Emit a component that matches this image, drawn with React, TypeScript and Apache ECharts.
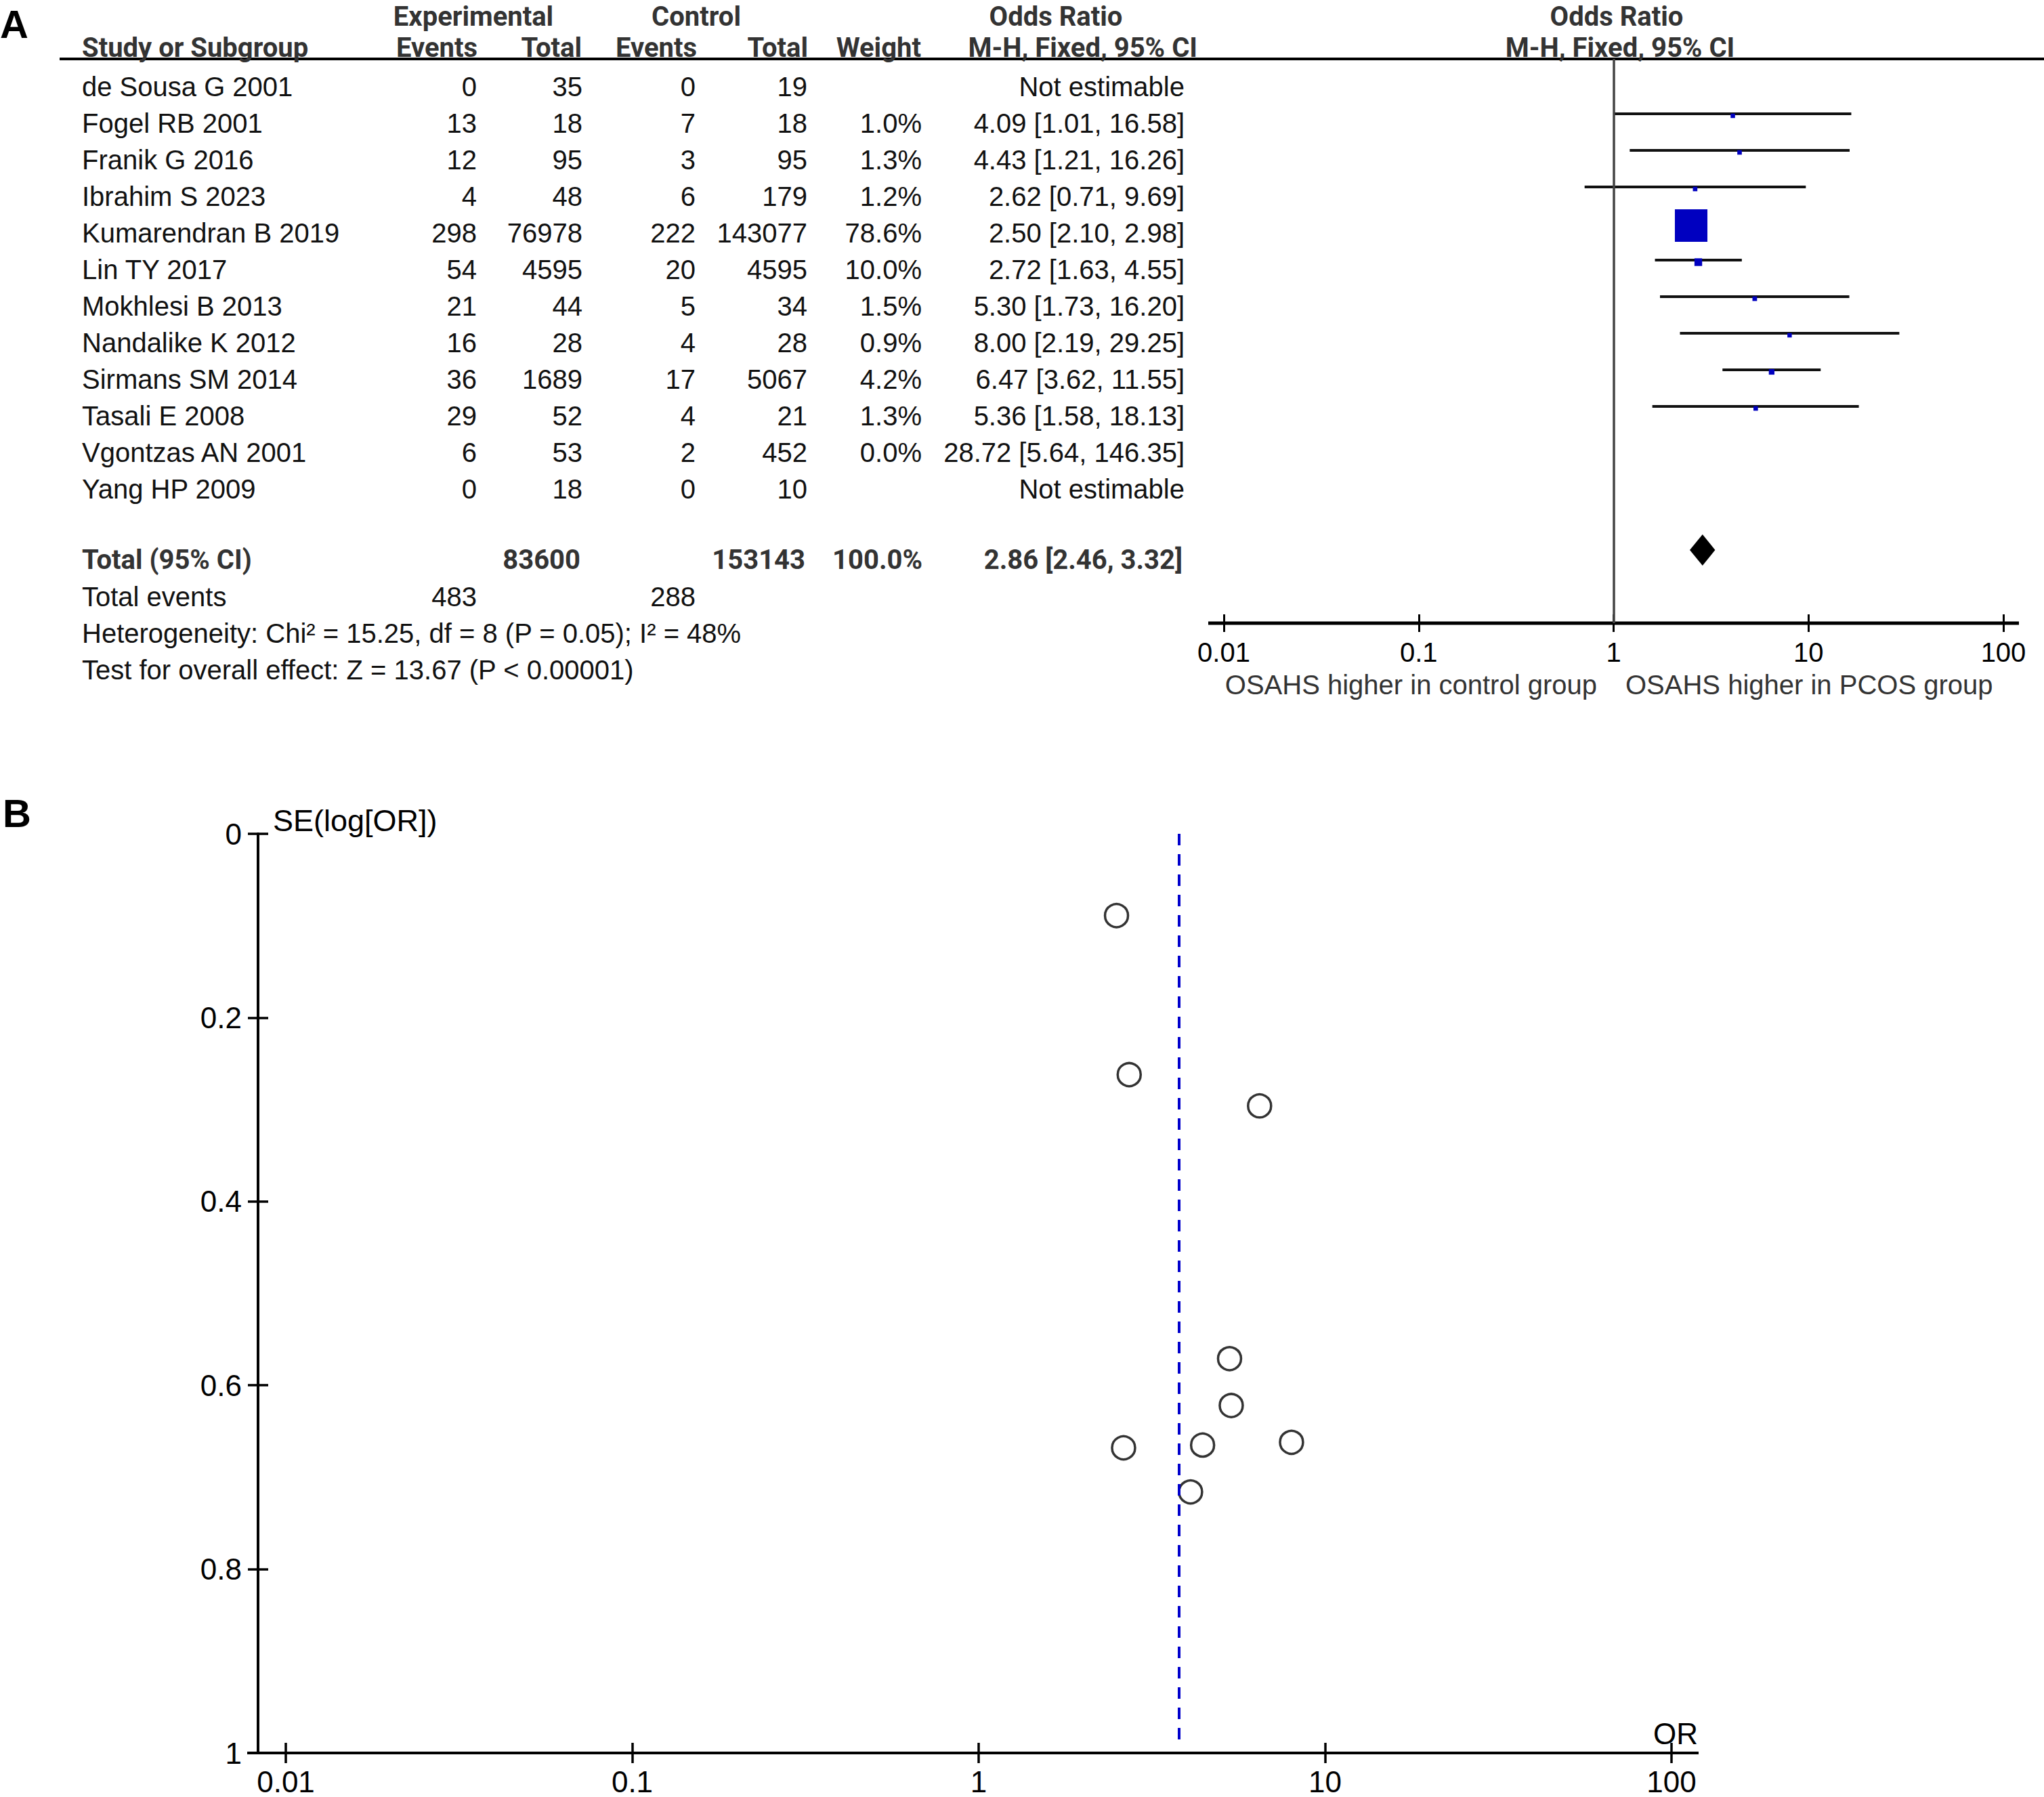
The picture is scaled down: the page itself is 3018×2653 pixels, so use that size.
import React, { useEffect, useRef } from "react";
import * as echarts from "echarts";

// ---------------- DATA ----------------
const studies = [
  "de Sousa G 2001",
  "Fogel RB 2001",
  "Franik G 2016",
  "Ibrahim S 2023",
  "Kumarendran B 2019",
  "Lin TY 2017",
  "Mokhlesi B 2013",
  "Nandalike K 2012",
  "Sirmans SM 2014",
  "Tasali E 2008",
  "Vgontzas AN 2001",
  "Yang HP 2009",
];
const expEvents = [0, 13, 12, 4, 298, 54, 21, 16, 36, 29, 6, 0];
const expTotal = [35, 18, 95, 48, 76978, 4595, 44, 28, 1689, 52, 53, 18];
const ctrlEvents = [0, 7, 3, 6, 222, 20, 5, 4, 17, 4, 2, 0];
const ctrlTotal = [19, 18, 95, 179, 143077, 4595, 34, 28, 5067, 21, 452, 10];
const weights: (number | null)[] = [null, 1.0, 1.3, 1.2, 78.6, 10.0, 1.5, 0.9, 4.2, 1.3, 0.0, null];
const oddsRatio: (number | null)[] = [null, 4.09, 4.43, 2.62, 2.5, 2.72, 5.3, 8.0, 6.47, 5.36, 28.72, null];
const ciLow: (number | null)[] = [null, 1.01, 1.21, 0.71, 2.1, 1.63, 1.73, 2.19, 3.62, 1.58, 5.64, null];
const ciHigh: (number | null)[] = [null, 16.58, 16.26, 9.69, 2.98, 4.55, 16.2, 29.25, 11.55, 18.13, 146.35, null];

const totalLabel = "Total (95% CI)";
const totalExp = 83600;
const totalCtrl = 153143;
const totalWeight = "100.0%";
const totalOR = 2.86;
const totalLow = 2.46;
const totalHigh = 3.32;
const totalEventsExp = 483;
const totalEventsCtrl = 288;
const heterogeneityText = "Heterogeneity: Chi² = 15.25, df = 8 (P = 0.05); I² = 48%";
const overallEffectText = "Test for overall effect: Z = 13.67 (P < 0.00001)";

// funnel plot
const funnelSE: (number | null)[] = [null, 0.716, 0.665, 0.668, 0.089, 0.262, 0.571, 0.662, 0.296, 0.622, null, null];
const funnelCentre = 3.78;
const seTicks = { min: 0, max: 1, interval: 0.2 };
const orRange = { min: 0.01, max: 100 };

// ---------------- LAYOUT ----------------
const W = 3018;
const H = 2653;
const REG = "'Liberation Sans', Arial, sans-serif";
const BOLD = "Roboto, 'Liberation Sans', Arial, sans-serif";
const LETTER = "'Liberation Sans', Arial, sans-serif";
const FS = 40;
const ROW0 = 128;
const ROW_H = 54;
const MARK_OFF = -14;
const TOTAL_Y = 826;
const EVENTS_Y = 881;
const HET_Y = 935;
const TEST_Y = 989;
const H1_Y = 24;
const H2_Y = 70;
const FOREST = { left: 1807, right: 2958, top: 87, bottom: 920 };
const FUNNEL = { left: 422, right: 2468, top: 1231, bottom: 2588 };
const Y_OFFSET = 41;
const COL = {
  study: 121,
  expEv: 704,
  expTot: 860,
  ctlEv: 1027,
  ctlTot: 1192,
  weight: 1361,
  orci: 1749,
};

const fmtLog = (v: number) => (v >= 1 ? String(Math.round(v)) : String(Number(v.toPrecision(1))));

function txt(text: string, x: number, y: number, align: string, opts: any = {}) {
  const bold = !!opts.bold;
  const size = opts.size ?? FS;
  const family = opts.family ?? (bold ? BOLD : REG);
  return {
    type: "text",
    x,
    y,
    silent: true,
    z: 10,
    style: {
      text,
      fill: opts.color ?? (bold ? "#333" : "#111"),
      font: `${bold ? "bold " : ""}${size}px ${family}`,
      lineHeight: size,
      textAlign: align,
      align,
      textVerticalAlign: "middle",
      verticalAlign: "middle",
    },
  };
}

function hline(x1: number, x2: number, y: number, w: number, color = "#000") {
  return { type: "line", silent: true, z: 5, shape: { x1, y1: y, x2, y2: y }, style: { stroke: color, lineWidth: w } };
}

function buildOption() {
  const g: any[] = [];
  // panel letters
  g.push(txt("A", 0, 35, "left", { bold: true, size: 58, family: LETTER, color: "#000" }));
  g.push(txt("B", 4, 1200, "left", { bold: true, size: 58, family: LETTER, color: "#000" }));

  // headers
  g.push(txt("Experimental", 699, H1_Y, "center", { bold: true }));
  g.push(txt("Control", 1028, H1_Y, "center", { bold: true }));
  g.push(txt("Odds Ratio", 1559, H1_Y, "center", { bold: true }));
  g.push(txt("Odds Ratio", 2387, H1_Y, "center", { bold: true }));
  g.push(txt("Study or Subgroup", COL.study, H2_Y, "left", { bold: true }));
  g.push(txt("Events", 705, H2_Y, "right", { bold: true }));
  g.push(txt("Total", 859, H2_Y, "right", { bold: true }));
  g.push(txt("Events", 1029, H2_Y, "right", { bold: true }));
  g.push(txt("Total", 1193, H2_Y, "right", { bold: true }));
  g.push(txt("Weight", 1360, H2_Y, "right", { bold: true }));
  g.push(txt("M-H, Fixed, 95% CI", 1768, H2_Y, "right", { bold: true }));
  g.push(txt("M-H, Fixed, 95% CI", 2392, H2_Y, "center", { bold: true }));
  g.push(hline(88, W, FOREST.top, 4));

  // study rows
  studies.forEach((s, i) => {
    const y = ROW0 + ROW_H * i;
    g.push(txt(s, COL.study, y, "left"));
    g.push(txt(String(expEvents[i]), COL.expEv, y, "right"));
    g.push(txt(String(expTotal[i]), COL.expTot, y, "right"));
    g.push(txt(String(ctrlEvents[i]), COL.ctlEv, y, "right"));
    g.push(txt(String(ctrlTotal[i]), COL.ctlTot, y, "right"));
    const w = weights[i];
    if (w != null) g.push(txt(w.toFixed(1) + "%", COL.weight, y, "right"));
    const or = oddsRatio[i];
    const t =
      or == null
        ? "Not estimable"
        : `${or.toFixed(2)} [${(ciLow[i] as number).toFixed(2)}, ${(ciHigh[i] as number).toFixed(2)}]`;
    g.push(txt(t, COL.orci, y, "right"));
  });

  // totals
  g.push(txt(totalLabel, COL.study, TOTAL_Y, "left", { bold: true }));
  g.push(txt(String(totalExp), COL.expTot - 3, TOTAL_Y, "right", { bold: true }));
  g.push(txt(String(totalCtrl), COL.ctlTot - 3, TOTAL_Y, "right", { bold: true }));
  g.push(txt(totalWeight, COL.weight + 1, TOTAL_Y, "right", { bold: true }));
  g.push(
    txt(`${totalOR.toFixed(2)} [${totalLow.toFixed(2)}, ${totalHigh.toFixed(2)}]`, COL.orci - 3, TOTAL_Y, "right", {
      bold: true,
    })
  );
  g.push(txt("Total events", COL.study, EVENTS_Y, "left"));
  g.push(txt(String(totalEventsExp), COL.expEv, EVENTS_Y, "right"));
  g.push(txt(String(totalEventsCtrl), COL.ctlEv, EVENTS_Y, "right"));
  g.push(txt(heterogeneityText, COL.study, HET_Y, "left"));
  g.push(txt(overallEffectText, COL.study, TEST_Y, "left"));

  // forest axis line + directions
  g.push(hline(1784, 2981, FOREST.bottom, 5));
  g.push(txt("OSAHS higher in control group", 2358, 1011, "right", { color: "#333" }));
  g.push(txt("OSAHS higher in PCOS group", 2400, 1011, "left", { color: "#333" }));

  // funnel axis line + names
  g.push(hline(365, 2508, FUNNEL.bottom, 4));
  g.push(txt("SE(log[OR])", 403, 1211, "left", { size: 45, color: "#000" }));
  g.push(txt("OR", 2507, 2559, "right", { size: 44, color: "#000" }));

  // forest mark data
  const forestData: number[][] = [];
  studies.forEach((_, i) => {
    const w = weights[i];
    if (oddsRatio[i] != null && w != null && w > 0) {
      forestData.push([ciLow[i] as number, ciHigh[i] as number, oddsRatio[i] as number, i, w]);
    }
  });
  const totalPos = (TOTAL_Y - ROW0) / ROW_H;
  const yMin = (FOREST.top - (ROW0 + MARK_OFF)) / ROW_H;
  const yMax = (FOREST.bottom - (ROW0 + MARK_OFF)) / ROW_H;

  const funnelData: number[][] = [];
  studies.forEach((_, i) => {
    if (funnelSE[i] != null && oddsRatio[i] != null) funnelData.push([oddsRatio[i] as number, funnelSE[i] as number]);
  });

  const forestH = FOREST.bottom - FOREST.top;
  const funnelH = FUNNEL.bottom - FUNNEL.top;
  const funnelW = FUNNEL.right - FUNNEL.left;

  const logAxisBase = (gridIndex: number, extra: any) => ({
    type: "log",
    logBase: 10,
    gridIndex,
    min: orRange.min,
    max: orRange.max,
    splitLine: { show: false },
    axisLine: { show: false, onZero: false },
    ...extra,
  });

  return {
    animation: false,
    backgroundColor: "#fff",
    grid: [
      {
        left: FOREST.left,
        top: FOREST.top,
        width: FOREST.right - FOREST.left,
        height: forestH,
        containLabel: false,
      },
      {
        left: FUNNEL.left,
        top: FUNNEL.top,
        width: funnelW,
        height: funnelH,
        containLabel: false,
      },
    ],
    xAxis: [
      logAxisBase(0, {
        position: "bottom",
        axisTick: { show: true, inside: false, length: 13, lineStyle: { color: "#000", width: 3 } },
        axisLabel: {
          show: true,
          margin: 23,
          fontSize: 40,
          lineHeight: 40,
          fontFamily: REG,
          color: "#000",
          formatter: (v: number) => fmtLog(v),
        },
      }),
      // upward half of the crossing ticks
      logAxisBase(0, {
        position: "bottom",
        axisTick: { show: true, inside: true, length: 13, lineStyle: { color: "#000", width: 3 } },
        axisLabel: { show: false },
      }),
      logAxisBase(1, {
        position: "bottom",
        axisTick: { show: true, inside: false, length: 15, lineStyle: { color: "#000", width: 3.5 } },
        axisLabel: {
          show: true,
          margin: 20,
          fontSize: 44,
          lineHeight: 44,
          fontFamily: REG,
          color: "#000",
          formatter: (v: number) => fmtLog(v),
        },
      }),
      logAxisBase(1, {
        position: "bottom",
        axisTick: { show: true, inside: true, length: 15, lineStyle: { color: "#000", width: 3.5 } },
        axisLabel: { show: false },
      }),
    ],
    yAxis: [
      { type: "value", gridIndex: 0, show: false, inverse: true, min: yMin, max: yMax, axisLine: { onZero: false } },
      {
        type: "value",
        gridIndex: 1,
        position: "left",
        inverse: true,
        offset: Y_OFFSET,
        min: seTicks.min,
        max: seTicks.max,
        interval: seTicks.interval,
        splitLine: { show: false },
        axisLine: { show: true, onZero: false, lineStyle: { color: "#000", width: 4 } },
        axisTick: { show: true, inside: false, length: 15, lineStyle: { color: "#000", width: 3.5 } },
        axisLabel: {
          show: true,
          margin: 24,
          fontSize: 44,
          fontFamily: REG,
          color: "#000",
          padding: [20, 0, 0, 0],
        },
      },
      // rightward half of the crossing ticks
      {
        type: "value",
        gridIndex: 1,
        position: "left",
        inverse: true,
        offset: Y_OFFSET,
        min: seTicks.min,
        max: seTicks.max,
        interval: seTicks.interval,
        splitLine: { show: false },
        axisLine: { show: false, onZero: false },
        axisTick: { show: true, inside: true, length: 15, lineStyle: { color: "#000", width: 3.5 } },
        axisLabel: { show: false },
      },
    ],
    graphic: g,
    series: [
      {
        type: "custom",
        name: "studies",
        xAxisIndex: 0,
        yAxisIndex: 0,
        encode: { x: [0, 1, 2], y: 3 },
        data: forestData,
        renderItem: (_p: any, api: any) => {
          const lo = api.value(0);
          const hi = api.value(1);
          const or = api.value(2);
          const row = api.value(3);
          const w = api.value(4);
          const a = api.coord([lo, row]);
          const b = api.coord([hi, row]);
          const c = api.coord([or, row]);
          const s = 6 + 0.535 * w;
          return {
            type: "group",
            children: [
              {
                type: "line",
                shape: { x1: a[0], y1: a[1], x2: b[0], y2: b[1] },
                style: { stroke: "#111", lineWidth: 4 },
              },
              {
                type: "rect",
                shape: { x: c[0] - s / 2, y: c[1] - s / 2 + 3, width: s, height: s },
                style: { fill: "#0000C0" },
              },
            ],
          };
        },
        markLine: {
          silent: true,
          symbol: "none",
          label: { show: false },
          lineStyle: { color: "#444", width: 3.5, type: "solid" },
          data: [{ xAxis: 1 }],
        },
      },
      {
        type: "custom",
        name: "total",
        xAxisIndex: 0,
        yAxisIndex: 0,
        encode: { x: [0, 1, 2], y: 3 },
        data: [[totalLow, totalHigh, totalOR, totalPos]],
        renderItem: (_p: any, api: any) => {
          const lo = api.coord([api.value(0), api.value(3)]);
          const hi = api.coord([api.value(1), api.value(3)]);
          const c = api.coord([api.value(2), api.value(3)]);
          const h = 23;
          return {
            type: "polygon",
            shape: {
              points: [
                [lo[0], c[1]],
                [c[0], c[1] - h],
                [hi[0], c[1]],
                [c[0], c[1] + h],
              ],
            },
            style: { fill: "#000" },
          };
        },
      },
      {
        type: "scatter",
        name: "funnel",
        xAxisIndex: 2,
        yAxisIndex: 1,
        data: funnelData,
        symbol: "circle",
        symbolSize: 34,
        itemStyle: { color: "rgba(255,255,255,0)", borderColor: "#000", borderWidth: 3.5 },
        markLine: {
          silent: true,
          symbol: "none",
          label: { show: false },
          lineStyle: { color: "#0000CC", width: 4, type: [17, 13] },
          data: [[{ coord: [funnelCentre, 0] }, { coord: [funnelCentre, 0.99] }]],
        },
      },
    ],
  };
}

export default function App() {
  const ref = useRef<HTMLDivElement | null>(null);
  useEffect(() => {
    document.body.style.margin = "0";
    document.body.style.overflow = "hidden";
    if (!ref.current) return;
    const chart = echarts.init(ref.current, undefined, { renderer: "svg" });
    chart.setOption(buildOption() as any);
    return () => chart.dispose();
  }, []);
  return <div ref={ref} style={{ width: W, height: H, background: "#fff" }} />;
}
